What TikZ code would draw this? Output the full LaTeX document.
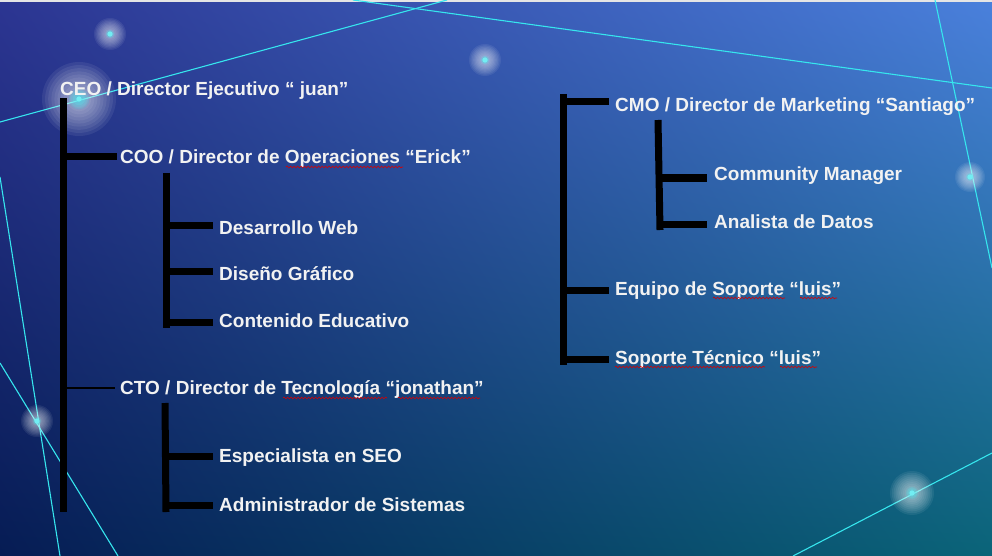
\documentclass[tikz,border=0pt]{standalone}
\usepackage{fontspec}
\setmainfont{Liberation Sans}
\usetikzlibrary{decorations.pathmorphing,shadings}
\definecolor{bgUL}{HTML}{2C3592}
\definecolor{bgUR}{HTML}{4A80DC}
\definecolor{bgLL}{HTML}{061C54}
\definecolor{bgLR}{HTML}{0A6478}
\definecolor{beam}{HTML}{36E6EE}
\definecolor{txt}{HTML}{F2F2F2}
\tikzset{
  lbl/.style={anchor=west, inner sep=0pt, text=txt, font=\fontsize{19}{22}\selectfont\bfseries},
  bar/.style={line width=7pt, draw=black},
  thinbar/.style={line width=1.6pt, draw=black},
  ray/.style={draw=beam, line width=1.1pt},
  squiggle/.style={draw=red!85!black, line width=0.6pt, decorate,
    decoration={snake, segment length=3.5pt, amplitude=0.9pt}},
}
\newcommand\myglow[3]{%
  \foreach \k in {1,...,12}{\fill[white, opacity=0.07] (#1,#2) circle[radius={#3*\k/12*1pt}];}
  \foreach \k in {1,...,5}{\fill[beam, opacity=0.18] (#1,#2) circle[radius={#3*\k/5*0.28pt}];}
  \fill[beam!70!white] (#1,#2) circle[radius=2.6pt];
}
\begin{document}
\begin{tikzpicture}[x=1pt, y=-1pt]
\useasboundingbox (0,0) rectangle (992,556);
% background
\shade[upper left=bgUL, upper right=bgUR, lower left=bgLL, lower right=bgLR] (0,0) rectangle (992,556);
\fill[gray!20] (0,0) rectangle (992,2);
% light rays
\draw[ray] (0,122) -- (447,0);
\draw[ray] (353,0) -- (992,88);
\draw[ray] (935,0) -- (992,268);
\draw[ray] (0,177) -- (60,556);
\draw[ray] (0,363) -- (118,556);
\draw[ray] (793,556) -- (992,453);
% glows
\myglow{110}{34}{16}
\myglow{485}{60}{16}
\myglow{79}{99}{37}
\myglow{970}{177}{15}
\myglow{37}{421}{16}
\myglow{912}{493}{22}
% labels
\node[lbl] (ceo) at (60,91) {CEO / Director Ejecutivo “ juan”};
\node[lbl] (coo) at (120,159) {COO / Director de Operaciones “Erick”};
\node[lbl] (web) at (219,228) {Desarrollo Web};
\node[lbl] (dis) at (219,274) {Diseño Gráfico};
\node[lbl] (edu) at (219,321) {Contenido Educativo};
\node[lbl] (cto) at (120,390) {CTO / Director de Tecnología “jonathan”};
\node[lbl] (seo) at (219,458) {Especialista en SEO};
\node[lbl] (adm) at (219,505) {Administrador de Sistemas};
\node[lbl] (cmo) at (615,107) {CMO / Director de Marketing “Santiago”};
\node[lbl] (cm) at (714,176) {Community Manager};
\node[lbl] (ana) at (714,222) {Analista de Datos};
\node[lbl] (eq) at (615,291) {Equipo de Soporte “luis”};
\node[lbl] (sop) at (615,360) {Soporte Técnico “luis”};
% bracket tops/bottoms
\coordinate (ceoTop) at (63,98);
\coordinate (ceoBot) at (63,512);
\coordinate (cooTop) at (166,173);
\coordinate (cooBot) at (166,328);
\coordinate (ctoTop) at (165,403);
\coordinate (ctoBot) at (166,512);
\coordinate (cmoTop) at (563,97);
\coordinate (cmoBot) at (563,365);
\coordinate (mktTop) at (658,120);
\coordinate (mktBot) at (660,230);
% CEO bracket
\draw[bar] (ceoTop) -- (ceoBot);
\draw[bar] (ceoTop |- 0,157) -- ([xshift=-3pt]coo.west |- 0,157);
\draw[thinbar] ([xshift=3pt]ceoTop |- 0,388) -- ([xshift=-5pt]cto.west |- 0,388);
% COO bracket
\draw[bar] (cooTop) -- (cooBot);
\draw[bar] (cooTop |- 0,225) -- ([xshift=-6pt]web.west |- 0,225);
\draw[bar] (cooTop |- 0,271) -- ([xshift=-6pt]dis.west |- 0,271);
\draw[bar] (cooTop |- 0,322) -- ([xshift=-6pt]edu.west |- 0,322);
% CTO bracket
\draw[bar] (ctoTop) -- (ctoBot);
\draw[bar] (ctoTop |- 0,456) -- ([xshift=-6pt]seo.west |- 0,456);
\draw[bar] (ctoTop |- 0,505) -- ([xshift=-6pt]adm.west |- 0,505);
% CMO bracket
\draw[bar] ([yshift=3pt]cmoTop) -- (cmoBot);
\draw[bar] (cmoTop |- 0,102) -- ([xshift=-6pt]cmo.west |- 0,102);
\draw[bar] (cmoTop |- 0,290) -- ([xshift=-6pt]eq.west |- 0,290);
\draw[bar] (cmoTop |- 0,359) -- ([xshift=-6pt]sop.west |- 0,359);
% Marketing sub-bracket
\draw[bar] (mktTop) -- (mktBot);
\draw[bar] (mktTop |- 0,178) -- ([xshift=-7pt]cm.west |- 0,178);
\draw[bar] (mktTop |- 0,224) -- ([xshift=-7pt]ana.west |- 0,224);
% spell-check underlines
\draw[squiggle] (286,167) -- (403,167);
\draw[squiggle] (283,398) -- (387,398);
\draw[squiggle] (398,398) -- (480,398);
\draw[squiggle] (713,298) -- (785,298);
\draw[squiggle] (800,298) -- (837,298);
\draw[squiggle] (615,367) -- (765,367);
\draw[squiggle] (780,367) -- (817,367);
\end{tikzpicture}
\end{document}
